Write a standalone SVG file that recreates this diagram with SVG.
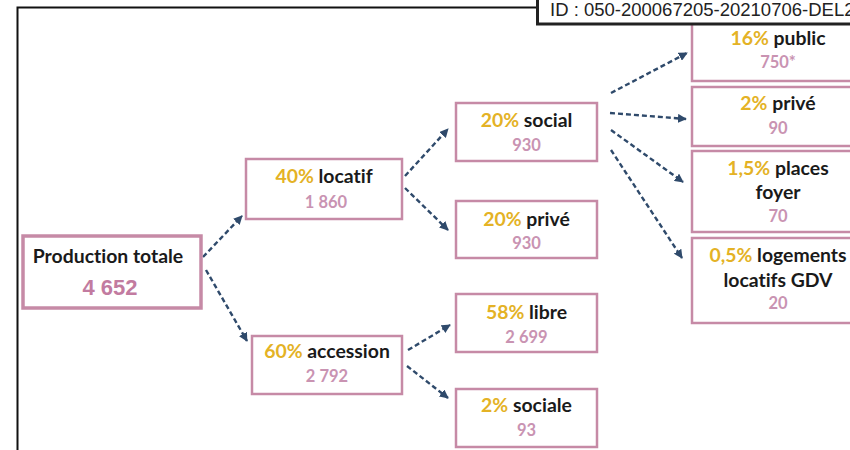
<svg xmlns="http://www.w3.org/2000/svg" width="850" height="450" viewBox="0 0 850 450">
  <defs>
    <style>
      .box { fill: #ffffff; stroke: #c68aa6; stroke-width: 2.5; }
      .box-main { fill: #ffffff; stroke: #c68aa6; stroke-width: 3.5; }
      .lbl { font-family: Lato, "Open Sans", "Liberation Sans", sans-serif; font-weight: 700; font-size: 19.4px; fill: #1a1a1a; text-anchor: middle; font-variant-ligatures: none; }
      .pct { fill: #e4b225; }
      .num { font-family: Lato, "Open Sans", "Liberation Sans", sans-serif; font-weight: 700; font-size: 16.5px; fill: #c993b2; text-anchor: middle; }
      .big { font-family: "Liberation Sans", Arial, sans-serif; font-weight: 700; font-size: 22px; fill: #c27ba0; text-anchor: middle; }
      .link { fill: none; stroke: #2f4a6b; stroke-width: 2.4; stroke-dasharray: 5 3; marker-end: url(#arrow); }
      .frame { fill: none; stroke: #111111; stroke-width: 2; }
      .stamp { fill: #ffffff; stroke: #222222; stroke-width: 3; }
      .stamp-txt { font-family: "Liberation Sans", Arial, sans-serif; font-size: 18.5px; fill: #222222; }
    </style>
    <marker id="arrow" viewBox="0 0 10 10" refX="9" refY="5" markerWidth="9" markerHeight="9" markerUnits="userSpaceOnUse" orient="auto">
      <path d="M0,0 L10,5 L0,10 Z" fill="#2f4a6b"/>
    </marker>
  </defs>

  <rect width="850" height="450" fill="#ffffff"/>

  <!-- page frame -->
  <path class="frame" d="M17.5,450 V7.5 H537"/>

  <!-- connectors -->
  <g id="connectors">
    <line class="link" x1="203" y1="257" x2="242" y2="216"/>
    <line class="link" x1="206" y1="270" x2="247" y2="341"/>
    <line class="link" x1="405" y1="176" x2="448" y2="129"/>
    <line class="link" x1="405" y1="188" x2="448" y2="230"/>
    <line class="link" x1="408" y1="350" x2="450" y2="325"/>
    <line class="link" x1="407" y1="366" x2="448" y2="398"/>
    <line class="link" x1="611" y1="93" x2="687" y2="53"/>
    <line class="link" x1="610" y1="113" x2="686" y2="119"/>
    <line class="link" x1="611" y1="130" x2="683" y2="182"/>
    <line class="link" x1="611" y1="150" x2="682" y2="258"/>
  </g>

  <!-- level 0 -->
  <g id="node-total">
    <rect class="box-main" x="23" y="236" width="178" height="72"/>
    <text class="lbl" x="108" y="263">Production totale</text>
    <text class="big" x="110" y="295">4 652</text>
  </g>

  <!-- level 1 -->
  <g id="node-locatif">
    <rect class="box" x="246" y="159" width="156" height="60"/>
    <text class="lbl" x="324" y="183"><tspan class="pct">40%</tspan> locatif</text>
    <text class="num" x="326" y="208">1 860</text>
  </g>
  <g id="node-accession">
    <rect class="box" x="252" y="336" width="150" height="58"/>
    <text class="lbl" x="327" y="358"><tspan class="pct">60%</tspan> accession</text>
    <text class="num" x="327" y="382">2 792</text>
  </g>

  <!-- level 2 -->
  <g id="node-social">
    <rect class="box" x="456" y="103" width="141" height="58"/>
    <text class="lbl" x="526.5" y="127"><tspan class="pct">20%</tspan> social</text>
    <text class="num" x="526.5" y="151">930</text>
  </g>
  <g id="node-prive">
    <rect class="box" x="456" y="201" width="141" height="57"/>
    <text class="lbl" x="526.5" y="226"><tspan class="pct">20%</tspan> privé</text>
    <text class="num" x="526.5" y="249">930</text>
  </g>
  <g id="node-libre">
    <rect class="box" x="456" y="294" width="141" height="58"/>
    <text class="lbl" x="526.5" y="319"><tspan class="pct">58%</tspan> libre</text>
    <text class="num" x="526.5" y="343">2 699</text>
  </g>
  <g id="node-sociale">
    <rect class="box" x="456" y="389" width="141" height="58"/>
    <text class="lbl" x="526.5" y="412"><tspan class="pct">2%</tspan> sociale</text>
    <text class="num" x="526.5" y="436">93</text>
  </g>

  <!-- level 3 -->
  <g id="node-public">
    <rect class="box" x="692" y="18" width="172" height="63"/>
    <text class="lbl" x="778" y="45"><tspan class="pct">16%</tspan> public</text>
    <text class="num" x="778" y="68">750*</text>
  </g>
  <g id="node-prive-social">
    <rect class="box" x="692" y="87" width="172" height="59"/>
    <text class="lbl" x="778" y="110"><tspan class="pct">2%</tspan> privé</text>
    <text class="num" x="778" y="134">90</text>
  </g>
  <g id="node-foyer">
    <rect class="box" x="692" y="151" width="172" height="81"/>
    <text class="lbl" x="778" y="175"><tspan class="pct">1,5%</tspan> places</text>
    <text class="lbl" x="778" y="199">foyer</text>
    <text class="num" x="778" y="222">70</text>
  </g>
  <g id="node-gdv">
    <rect class="box" x="692" y="238" width="172" height="85"/>
    <text class="lbl" x="778" y="262"><tspan class="pct">0,5%</tspan> logements</text>
    <text class="lbl" x="778" y="287">locatifs GDV</text>
    <text class="num" x="778" y="309">20</text>
  </g>

  <!-- reference stamp -->
  <g id="stamp">
    <rect class="stamp" x="537.5" y="-5" width="320" height="29"/>
    <text class="stamp-txt" x="550" y="16">ID : 050-200067205-20210706-DEL2</text>
  </g>
</svg>
